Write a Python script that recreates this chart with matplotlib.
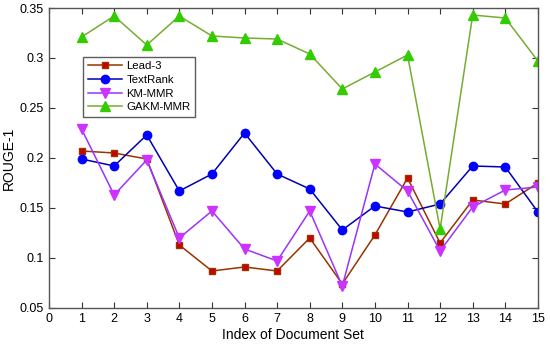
import matplotlib
matplotlib.use("Agg")
import matplotlib.pyplot as plt

x = list(range(1, 16))
lead3 = [0.207, 0.205, 0.199, 0.113, 0.087, 0.091, 0.087, 0.120, 0.074, 0.123, 0.180, 0.115, 0.158, 0.154, 0.175]
textrank = [0.199, 0.192, 0.223, 0.167, 0.184, 0.225, 0.184, 0.169, 0.128, 0.152, 0.146, 0.154, 0.192, 0.191, 0.146]
kmmmr = [0.229, 0.163, 0.198, 0.120, 0.147, 0.109, 0.097, 0.147, 0.072, 0.194, 0.167, 0.107, 0.151, 0.168, 0.171]
gakm = [0.321, 0.342, 0.313, 0.342, 0.322, 0.320, 0.319, 0.304, 0.269, 0.286, 0.303, 0.129, 0.343, 0.340, 0.297]
labels = ["Lead-3", "TextRank", "KM-MMR", "GAKM-MMR"]

plt.rcParams['font.family'] = ['Liberation Sans', 'DejaVu Sans']
fig = plt.figure(figsize=(5.5, 3.48), dpi=100)
ax = fig.add_axes([0.089, 0.115, 0.889, 0.862])

ax.plot(x, lead3, color='#993300', lw=1.1, marker='s', ms=4.5, mfc='#CC0000', mec='#993300', label=labels[0])
ax.plot(x, textrank, color='#0000B0', lw=1.1, marker='o', ms=6, mfc='#0000FF', mec='#0000FF', label=labels[1])
ax.plot(x, kmmmr, color='#9933FF', lw=1.1, marker='v', ms=6.5, mfc='#CC33FF', mec='#CC33FF', label=labels[2])
ax.plot(x, gakm, color='#77AC30', lw=1.1, marker='^', ms=6.5, mfc='#33CC00', mec='#33CC00', label=labels[3])

ax.set_xlim(0, 15)
ax.set_ylim(0.05, 0.35)
ax.set_xticks(range(0, 16))
ax.set_yticks([0.05, 0.1, 0.15, 0.2, 0.25, 0.3, 0.35])
ax.set_yticklabels(['0.05', '0.1', '0.15', '0.2', '0.25', '0.3', '0.35'])
ax.tick_params(direction='in', top=True, right=True, labelsize=9, length=4, color='#333333')
for s in ax.spines.values():
    s.set_color('#555555')
    s.set_linewidth(1.0)
ax.set_xlabel('Index of Document Set', fontsize=10, labelpad=2)
ax.set_ylabel('ROUGE-1', fontsize=10, labelpad=3)

leg = ax.legend(loc='upper left', bbox_to_anchor=(0.07, 0.837), fontsize=8.2, frameon=True,
                fancybox=False, edgecolor='#333333', borderpad=0.4, labelspacing=0.32,
                handlelength=3.0, handletextpad=0.4, borderaxespad=0)
leg.get_frame().set_linewidth(1.0)

fig.savefig('out.png', dpi=100)
